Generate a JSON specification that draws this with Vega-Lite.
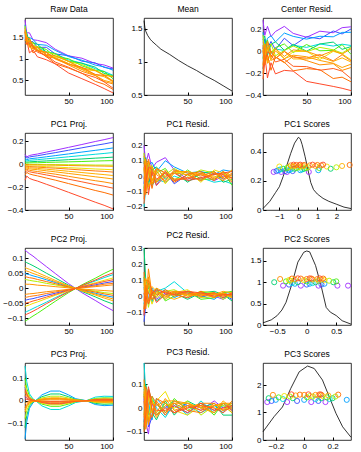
{
"$schema":"https://vega.github.io/schema/vega-lite/v6.json",
"background":"white",
"padding":{"left":2,"top":4,"right":6,"bottom":3},
"config":{
 "view":{"continuousWidth":88,"continuousHeight":77,"stroke":"#000","strokeWidth":0.8},
 "axis":{"domain":false,"grid":false,"tickSize":-3,"tickColor":"#000","labelFontSize":8,"labelFont":"Liberation Sans","labelColor":"#000","labelPadding":5,"labelOverlap":false},
 "title":{"fontSize":8.5,"fontWeight":"normal","font":"Liberation Sans","offset":5,"color":"#000"},
 "range":{"category":["#a030ff","#3c50ff","#00a0ff","#00dcdc","#00d070","#50f010","#b4f000","#f0e000","#ffb000","#ff8c00","#ff6e00","#ff4a2a","#ff9600","#ff7a10","#ffa000","#ff5c20"]},
 "line":{"strokeWidth":1,"clip":true}
},
"datasets":{
"raw":[
{"s":"a","x":1,"y":1.90},{"s":"a","x":3,"y":1.602},{"s":"a","x":6,"y":1.604},{"s":"a","x":10,"y":1.441},{"s":"a","x":15,"y":1.427},{"s":"a","x":25,"y":1.374},{"s":"a","x":35,"y":1.22},{"s":"a","x":50,"y":1.065},{"s":"a","x":65,"y":1.01},{"s":"a","x":80,"y":0.886},{"s":"a","x":90,"y":0.852},{"s":"a","x":100,"y":0.78},
{"s":"b","x":1,"y":1.638},{"s":"b","x":3,"y":1.571},{"s":"b","x":6,"y":1.401},{"s":"b","x":10,"y":1.397},{"s":"b","x":15,"y":1.262},{"s":"b","x":25,"y":1.266},{"s":"b","x":35,"y":1.109},{"s":"b","x":50,"y":1.07},{"s":"b","x":65,"y":0.941},{"s":"b","x":80,"y":0.902},{"s":"b","x":90,"y":0.795},{"s":"b","x":100,"y":0.76},
{"s":"c","x":1,"y":1.79},{"s":"c","x":3,"y":1.478},{"s":"c","x":6,"y":1.495},{"s":"c","x":10,"y":1.449},{"s":"c","x":15,"y":1.333},{"s":"c","x":25,"y":1.313},{"s":"c","x":35,"y":1.193},{"s":"c","x":50,"y":1.048},{"s":"c","x":65,"y":0.964},{"s":"c","x":80,"y":0.849},{"s":"c","x":90,"y":0.809},{"s":"c","x":100,"y":0.73},
{"s":"d","x":1,"y":1.456},{"s":"d","x":3,"y":1.407},{"s":"d","x":6,"y":1.442},{"s":"d","x":10,"y":1.285},{"s":"d","x":15,"y":1.268},{"s":"d","x":25,"y":1.155},{"s":"d","x":35,"y":1.112},{"s":"d","x":50,"y":0.973},{"s":"d","x":65,"y":0.894},{"s":"d","x":80,"y":0.765},{"s":"d","x":90,"y":0.702},{"s":"d","x":100,"y":0.61},
{"s":"e","x":1,"y":1.722},{"s":"e","x":3,"y":1.596},{"s":"e","x":6,"y":1.339},{"s":"e","x":10,"y":1.371},{"s":"e","x":15,"y":1.333},{"s":"e","x":25,"y":1.157},{"s":"e","x":35,"y":1.121},{"s":"e","x":50,"y":0.938},{"s":"e","x":65,"y":0.894},{"s":"e","x":80,"y":0.801},{"s":"e","x":90,"y":0.655},{"s":"e","x":100,"y":0.60},
{"s":"f","x":1,"y":1.551},{"s":"f","x":3,"y":1.498},{"s":"f","x":6,"y":1.48},{"s":"f","x":10,"y":1.291},{"s":"f","x":15,"y":1.281},{"s":"f","x":25,"y":1.214},{"s":"f","x":35,"y":1.046},{"s":"f","x":50,"y":0.999},{"s":"f","x":65,"y":0.832},{"s":"f","x":80,"y":0.726},{"s":"f","x":90,"y":0.698},{"s":"f","x":100,"y":0.53},
{"s":"g","x":1,"y":1.766},{"s":"g","x":3,"y":1.397},{"s":"g","x":6,"y":1.397},{"s":"g","x":10,"y":1.376},{"s":"g","x":15,"y":1.206},{"s":"g","x":25,"y":1.155},{"s":"g","x":35,"y":1.105},{"s":"g","x":50,"y":0.934},{"s":"g","x":65,"y":0.863},{"s":"g","x":80,"y":0.731},{"s":"g","x":90,"y":0.621},{"s":"g","x":100,"y":0.59},
{"s":"h","x":1,"y":1.482},{"s":"h","x":3,"y":1.496},{"s":"h","x":6,"y":1.274},{"s":"h","x":10,"y":1.302},{"s":"h","x":15,"y":1.271},{"s":"h","x":25,"y":1.077},{"s":"h","x":35,"y":1.054},{"s":"h","x":50,"y":0.938},{"s":"h","x":65,"y":0.753},{"s":"h","x":80,"y":0.717},{"s":"h","x":90,"y":0.614},{"s":"h","x":100,"y":0.48},
{"s":"i","x":1,"y":1.634},{"s":"i","x":3,"y":1.333},{"s":"i","x":6,"y":1.448},{"s":"i","x":10,"y":1.225},{"s":"i","x":15,"y":1.182},{"s":"i","x":25,"y":1.145},{"s":"i","x":35,"y":0.988},{"s":"i","x":50,"y":0.867},{"s":"i","x":65,"y":0.776},{"s":"i","x":80,"y":0.625},{"s":"i","x":90,"y":0.578},{"s":"i","x":100,"y":0.46},
{"s":"j","x":1,"y":1.409},{"s":"j","x":3,"y":1.524},{"s":"j","x":6,"y":1.296},{"s":"j","x":10,"y":1.31},{"s":"j","x":15,"y":1.195},{"s":"j","x":25,"y":1.043},{"s":"j","x":35,"y":1.012},{"s":"j","x":50,"y":0.853},{"s":"j","x":65,"y":0.704},{"s":"j","x":80,"y":0.605},{"s":"j","x":90,"y":0.464},{"s":"j","x":100,"y":0.41},
{"s":"k","x":1,"y":1.623},{"s":"k","x":3,"y":1.347},{"s":"k","x":6,"y":1.344},{"s":"k","x":10,"y":1.135},{"s":"k","x":15,"y":1.197},{"s":"k","x":25,"y":1.048},{"s":"k","x":35,"y":0.88},{"s":"k","x":50,"y":0.78},{"s":"k","x":65,"y":0.66},{"s":"k","x":80,"y":0.47},{"s":"k","x":90,"y":0.402},{"s":"k","x":100,"y":0.28},
{"s":"l","x":1,"y":1.46},{"s":"l","x":3,"y":1.425},{"s":"l","x":6,"y":1.135},{"s":"l","x":10,"y":1.203},{"s":"l","x":15,"y":1.042},{"s":"l","x":25,"y":0.974},{"s":"l","x":35,"y":0.877},{"s":"l","x":50,"y":0.664},{"s":"l","x":65,"y":0.531},{"s":"l","x":80,"y":0.398},{"s":"l","x":90,"y":0.301},{"s":"l","x":100,"y":0.20},
{"s":"m","x":1,"y":1.673},{"s":"m","x":3,"y":1.335},{"s":"m","x":6,"y":1.414},{"s":"m","x":10,"y":1.253},{"s":"m","x":15,"y":1.272},{"s":"m","x":25,"y":1.101},{"s":"m","x":35,"y":1.07},{"s":"m","x":50,"y":0.937},{"s":"m","x":65,"y":0.785},{"s":"m","x":80,"y":0.723},{"s":"m","x":90,"y":0.612},{"s":"m","x":100,"y":0.58},
{"s":"n","x":1,"y":1.495},{"s":"n","x":3,"y":1.471},{"s":"n","x":6,"y":1.468},{"s":"n","x":10,"y":1.305},{"s":"n","x":15,"y":1.183},{"s":"n","x":25,"y":1.148},{"s":"n","x":35,"y":1.004},{"s":"n","x":50,"y":0.876},{"s":"n","x":65,"y":0.798},{"s":"n","x":80,"y":0.63},{"s":"n","x":90,"y":0.606},{"s":"n","x":100,"y":0.47},
{"s":"o","x":1,"y":1.703},{"s":"o","x":3,"y":1.515},{"s":"o","x":6,"y":1.268},{"s":"o","x":10,"y":1.234},{"s":"o","x":15,"y":1.251},{"s":"o","x":25,"y":1.081},{"s":"o","x":35,"y":1.022},{"s":"o","x":50,"y":0.888},{"s":"o","x":65,"y":0.744},{"s":"o","x":80,"y":0.609},{"s":"o","x":90,"y":0.49},{"s":"o","x":100,"y":0.44},
{"s":"p","x":1,"y":1.364},{"s":"p","x":3,"y":1.353},{"s":"p","x":6,"y":1.373},{"s":"p","x":10,"y":1.276},{"s":"p","x":15,"y":1.15},{"s":"p","x":25,"y":1.075},{"s":"p","x":35,"y":0.921},{"s":"p","x":50,"y":0.798},{"s":"p","x":65,"y":0.655},{"s":"p","x":80,"y":0.561},{"s":"p","x":90,"y":0.457},{"s":"p","x":100,"y":0.31}
],
"mean":[
{"x":1,"y":1.62},{"x":2,"y":1.52},{"x":3,"y":1.46},{"x":5,"y":1.40},{"x":8,"y":1.34},{"x":10,"y":1.31},{"x":15,"y":1.25},{"x":20,"y":1.19},{"x":30,"y":1.11},{"x":40,"y":1.02},{"x":50,"y":0.94},{"x":60,"y":0.87},{"x":70,"y":0.79},{"x":80,"y":0.72},{"x":90,"y":0.64},{"x":100,"y":0.56}
],
"cres":[
{"s":"a","x":1,"y":0.28},{"s":"a","x":3,"y":0.142},{"s":"a","x":6,"y":0.224},{"s":"a","x":10,"y":0.131},{"s":"a","x":15,"y":0.177},{"s":"a","x":25,"y":0.224},{"s":"a","x":35,"y":0.16},{"s":"a","x":50,"y":0.125},{"s":"a","x":65,"y":0.18},{"s":"a","x":80,"y":0.166},{"s":"a","x":90,"y":0.212},{"s":"a","x":100,"y":0.22},
{"s":"b","x":1,"y":0.018},{"s":"b","x":3,"y":0.111},{"s":"b","x":6,"y":0.021},{"s":"b","x":10,"y":0.087},{"s":"b","x":15,"y":0.012},{"s":"b","x":25,"y":0.116},{"s":"b","x":35,"y":0.049},{"s":"b","x":50,"y":0.13},{"s":"b","x":65,"y":0.111},{"s":"b","x":80,"y":0.182},{"s":"b","x":90,"y":0.155},{"s":"b","x":100,"y":0.20},
{"s":"c","x":1,"y":0.17},{"s":"c","x":3,"y":0.018},{"s":"c","x":6,"y":0.115},{"s":"c","x":10,"y":0.139},{"s":"c","x":15,"y":0.083},{"s":"c","x":25,"y":0.163},{"s":"c","x":35,"y":0.133},{"s":"c","x":50,"y":0.108},{"s":"c","x":65,"y":0.134},{"s":"c","x":80,"y":0.129},{"s":"c","x":90,"y":0.169},{"s":"c","x":100,"y":0.17},
{"s":"d","x":1,"y":-0.164},{"s":"d","x":3,"y":-0.053},{"s":"d","x":6,"y":0.062},{"s":"d","x":10,"y":-0.025},{"s":"d","x":15,"y":0.018},{"s":"d","x":25,"y":0.005},{"s":"d","x":35,"y":0.052},{"s":"d","x":50,"y":0.033},{"s":"d","x":65,"y":0.064},{"s":"d","x":80,"y":0.045},{"s":"d","x":90,"y":0.062},{"s":"d","x":100,"y":0.05},
{"s":"e","x":1,"y":0.102},{"s":"e","x":3,"y":0.136},{"s":"e","x":6,"y":-0.041},{"s":"e","x":10,"y":0.061},{"s":"e","x":15,"y":0.083},{"s":"e","x":25,"y":0.007},{"s":"e","x":35,"y":0.061},{"s":"e","x":50,"y":-0.002},{"s":"e","x":65,"y":0.064},{"s":"e","x":80,"y":0.081},{"s":"e","x":90,"y":0.015},{"s":"e","x":100,"y":0.04},
{"s":"f","x":1,"y":-0.069},{"s":"f","x":3,"y":0.038},{"s":"f","x":6,"y":0.10},{"s":"f","x":10,"y":-0.019},{"s":"f","x":15,"y":0.031},{"s":"f","x":25,"y":0.064},{"s":"f","x":35,"y":-0.014},{"s":"f","x":50,"y":0.059},{"s":"f","x":65,"y":0.002},{"s":"f","x":80,"y":0.006},{"s":"f","x":90,"y":0.058},{"s":"f","x":100,"y":-0.03},
{"s":"g","x":1,"y":0.146},{"s":"g","x":3,"y":-0.063},{"s":"g","x":6,"y":0.017},{"s":"g","x":10,"y":0.066},{"s":"g","x":15,"y":-0.044},{"s":"g","x":25,"y":0.005},{"s":"g","x":35,"y":0.045},{"s":"g","x":50,"y":-0.006},{"s":"g","x":65,"y":0.033},{"s":"g","x":80,"y":0.011},{"s":"g","x":90,"y":-0.019},{"s":"g","x":100,"y":0.03},
{"s":"h","x":1,"y":-0.138},{"s":"h","x":3,"y":0.036},{"s":"h","x":6,"y":-0.106},{"s":"h","x":10,"y":-0.008},{"s":"h","x":15,"y":0.021},{"s":"h","x":25,"y":-0.073},{"s":"h","x":35,"y":-0.006},{"s":"h","x":50,"y":-0.002},{"s":"h","x":65,"y":-0.077},{"s":"h","x":80,"y":-0.003},{"s":"h","x":90,"y":-0.026},{"s":"h","x":100,"y":-0.08},
{"s":"i","x":1,"y":0.014},{"s":"i","x":3,"y":-0.127},{"s":"i","x":6,"y":0.068},{"s":"i","x":10,"y":-0.085},{"s":"i","x":15,"y":-0.068},{"s":"i","x":25,"y":-0.005},{"s":"i","x":35,"y":-0.072},{"s":"i","x":50,"y":-0.073},{"s":"i","x":65,"y":-0.054},{"s":"i","x":80,"y":-0.095},{"s":"i","x":90,"y":-0.062},{"s":"i","x":100,"y":-0.10},
{"s":"j","x":1,"y":-0.211},{"s":"j","x":3,"y":0.064},{"s":"j","x":6,"y":-0.084},{"s":"j","x":10,"y":0.0},{"s":"j","x":15,"y":-0.055},{"s":"j","x":25,"y":-0.107},{"s":"j","x":35,"y":-0.048},{"s":"j","x":50,"y":-0.087},{"s":"j","x":65,"y":-0.126},{"s":"j","x":80,"y":-0.115},{"s":"j","x":90,"y":-0.176},{"s":"j","x":100,"y":-0.15},
{"s":"k","x":1,"y":0.003},{"s":"k","x":3,"y":-0.113},{"s":"k","x":6,"y":-0.036},{"s":"k","x":10,"y":-0.175},{"s":"k","x":15,"y":-0.053},{"s":"k","x":25,"y":-0.102},{"s":"k","x":35,"y":-0.18},{"s":"k","x":50,"y":-0.16},{"s":"k","x":65,"y":-0.17},{"s":"k","x":80,"y":-0.25},{"s":"k","x":90,"y":-0.238},{"s":"k","x":100,"y":-0.28},
{"s":"l","x":1,"y":-0.16},{"s":"l","x":3,"y":-0.035},{"s":"l","x":6,"y":-0.245},{"s":"l","x":10,"y":-0.107},{"s":"l","x":15,"y":-0.208},{"s":"l","x":25,"y":-0.176},{"s":"l","x":35,"y":-0.183},{"s":"l","x":50,"y":-0.276},{"s":"l","x":65,"y":-0.299},{"s":"l","x":80,"y":-0.322},{"s":"l","x":90,"y":-0.339},{"s":"l","x":100,"y":-0.36},
{"s":"m","x":1,"y":0.053},{"s":"m","x":3,"y":-0.125},{"s":"m","x":6,"y":0.034},{"s":"m","x":10,"y":-0.057},{"s":"m","x":15,"y":0.022},{"s":"m","x":25,"y":-0.049},{"s":"m","x":35,"y":0.01},{"s":"m","x":50,"y":-0.003},{"s":"m","x":65,"y":-0.045},{"s":"m","x":80,"y":0.003},{"s":"m","x":90,"y":-0.028},{"s":"m","x":100,"y":0.02},
{"s":"n","x":1,"y":-0.125},{"s":"n","x":3,"y":0.011},{"s":"n","x":6,"y":0.088},{"s":"n","x":10,"y":-0.005},{"s":"n","x":15,"y":-0.067},{"s":"n","x":25,"y":-0.002},{"s":"n","x":35,"y":-0.056},{"s":"n","x":50,"y":-0.064},{"s":"n","x":65,"y":-0.032},{"s":"n","x":80,"y":-0.09},{"s":"n","x":90,"y":-0.034},{"s":"n","x":100,"y":-0.09},
{"s":"o","x":1,"y":0.083},{"s":"o","x":3,"y":0.055},{"s":"o","x":6,"y":-0.112},{"s":"o","x":10,"y":-0.076},{"s":"o","x":15,"y":0.001},{"s":"o","x":25,"y":-0.069},{"s":"o","x":35,"y":-0.038},{"s":"o","x":50,"y":-0.052},{"s":"o","x":65,"y":-0.086},{"s":"o","x":80,"y":-0.111},{"s":"o","x":90,"y":-0.15},{"s":"o","x":100,"y":-0.12},
{"s":"p","x":1,"y":-0.256},{"s":"p","x":3,"y":-0.107},{"s":"p","x":6,"y":-0.007},{"s":"p","x":10,"y":-0.034},{"s":"p","x":15,"y":-0.1},{"s":"p","x":25,"y":-0.075},{"s":"p","x":35,"y":-0.139},{"s":"p","x":50,"y":-0.142},{"s":"p","x":65,"y":-0.175},{"s":"p","x":80,"y":-0.159},{"s":"p","x":90,"y":-0.183},{"s":"p","x":100,"y":-0.25}
],
"p1":[
{"s":"a","x":1,"y":0.083},{"s":"a","x":3,"y":0.062},{"s":"a","x":6,"y":0.074},{"s":"a","x":10,"y":0.081},{"s":"a","x":15,"y":0.087},{"s":"a","x":25,"y":0.104},{"s":"a","x":35,"y":0.12},{"s":"a","x":50,"y":0.145},{"s":"a","x":65,"y":0.17},{"s":"a","x":80,"y":0.196},{"s":"a","x":90,"y":0.212},{"s":"a","x":100,"y":0.23},
{"s":"b","x":1,"y":0.068},{"s":"b","x":3,"y":0.051},{"s":"b","x":6,"y":0.061},{"s":"b","x":10,"y":0.067},{"s":"b","x":15,"y":0.072},{"s":"b","x":25,"y":0.086},{"s":"b","x":35,"y":0.099},{"s":"b","x":50,"y":0.12},{"s":"b","x":65,"y":0.141},{"s":"b","x":80,"y":0.162},{"s":"b","x":90,"y":0.175},{"s":"b","x":100,"y":0.19},
{"s":"c","x":1,"y":0.05},{"s":"c","x":3,"y":0.038},{"s":"c","x":6,"y":0.045},{"s":"c","x":10,"y":0.049},{"s":"c","x":15,"y":0.053},{"s":"c","x":25,"y":0.063},{"s":"c","x":35,"y":0.073},{"s":"c","x":50,"y":0.088},{"s":"c","x":65,"y":0.104},{"s":"c","x":80,"y":0.119},{"s":"c","x":90,"y":0.129},{"s":"c","x":100,"y":0.14},
{"s":"d","x":1,"y":0.036},{"s":"d","x":3,"y":0.027},{"s":"d","x":6,"y":0.032},{"s":"d","x":10,"y":0.035},{"s":"d","x":15,"y":0.038},{"s":"d","x":25,"y":0.045},{"s":"d","x":35,"y":0.052},{"s":"d","x":50,"y":0.063},{"s":"d","x":65,"y":0.074},{"s":"d","x":80,"y":0.085},{"s":"d","x":90,"y":0.092},{"s":"d","x":100,"y":0.10},
{"s":"e","x":1,"y":0.022},{"s":"e","x":3,"y":0.016},{"s":"e","x":6,"y":0.019},{"s":"e","x":10,"y":0.021},{"s":"e","x":15,"y":0.023},{"s":"e","x":25,"y":0.027},{"s":"e","x":35,"y":0.031},{"s":"e","x":50,"y":0.038},{"s":"e","x":65,"y":0.044},{"s":"e","x":80,"y":0.051},{"s":"e","x":90,"y":0.055},{"s":"e","x":100,"y":0.06},
{"s":"f","x":1,"y":0.011},{"s":"f","x":3,"y":0.008},{"s":"f","x":6,"y":0.01},{"s":"f","x":10,"y":0.011},{"s":"f","x":15,"y":0.011},{"s":"f","x":25,"y":0.014},{"s":"f","x":35,"y":0.016},{"s":"f","x":50,"y":0.019},{"s":"f","x":65,"y":0.022},{"s":"f","x":80,"y":0.026},{"s":"f","x":90,"y":0.028},{"s":"f","x":100,"y":0.03},
{"s":"g","x":1,"y":-0.004},{"s":"g","x":3,"y":-0.003},{"s":"g","x":6,"y":-0.003},{"s":"g","x":10,"y":-0.004},{"s":"g","x":15,"y":-0.004},{"s":"g","x":25,"y":-0.005},{"s":"g","x":35,"y":-0.005},{"s":"g","x":50,"y":-0.006},{"s":"g","x":65,"y":-0.007},{"s":"g","x":80,"y":-0.009},{"s":"g","x":90,"y":-0.009},{"s":"g","x":100,"y":-0.01},
{"s":"h","x":1,"y":-0.018},{"s":"h","x":3,"y":-0.014},{"s":"h","x":6,"y":-0.016},{"s":"h","x":10,"y":-0.018},{"s":"h","x":15,"y":-0.019},{"s":"h","x":25,"y":-0.023},{"s":"h","x":35,"y":-0.026},{"s":"h","x":50,"y":-0.032},{"s":"h","x":65,"y":-0.037},{"s":"h","x":80,"y":-0.043},{"s":"h","x":90,"y":-0.046},{"s":"h","x":100,"y":-0.05},
{"s":"i","x":1,"y":-0.036},{"s":"i","x":3,"y":-0.027},{"s":"i","x":6,"y":-0.032},{"s":"i","x":10,"y":-0.035},{"s":"i","x":15,"y":-0.038},{"s":"i","x":25,"y":-0.045},{"s":"i","x":35,"y":-0.052},{"s":"i","x":50,"y":-0.063},{"s":"i","x":65,"y":-0.074},{"s":"i","x":80,"y":-0.085},{"s":"i","x":90,"y":-0.092},{"s":"i","x":100,"y":-0.10},
{"s":"j","x":1,"y":-0.061},{"s":"j","x":3,"y":-0.046},{"s":"j","x":6,"y":-0.054},{"s":"j","x":10,"y":-0.06},{"s":"j","x":15,"y":-0.065},{"s":"j","x":25,"y":-0.077},{"s":"j","x":35,"y":-0.088},{"s":"j","x":50,"y":-0.107},{"s":"j","x":65,"y":-0.126},{"s":"j","x":80,"y":-0.145},{"s":"j","x":90,"y":-0.156},{"s":"j","x":100,"y":-0.17},
{"s":"k","x":1,"y":-0.097},{"s":"k","x":3,"y":-0.073},{"s":"k","x":6,"y":-0.086},{"s":"k","x":10,"y":-0.095},{"s":"k","x":15,"y":-0.103},{"s":"k","x":25,"y":-0.122},{"s":"k","x":35,"y":-0.14},{"s":"k","x":50,"y":-0.17},{"s":"k","x":65,"y":-0.2},{"s":"k","x":80,"y":-0.23},{"s":"k","x":90,"y":-0.248},{"s":"k","x":100,"y":-0.27},
{"s":"l","x":1,"y":-0.14},{"s":"l","x":3,"y":-0.105},{"s":"l","x":6,"y":-0.125},{"s":"l","x":10,"y":-0.137},{"s":"l","x":15,"y":-0.148},{"s":"l","x":25,"y":-0.176},{"s":"l","x":35,"y":-0.203},{"s":"l","x":50,"y":-0.246},{"s":"l","x":65,"y":-0.289},{"s":"l","x":80,"y":-0.332},{"s":"l","x":90,"y":-0.359},{"s":"l","x":100,"y":-0.39},
{"s":"m","x":1,"y":-0.007},{"s":"m","x":3,"y":-0.005},{"s":"m","x":6,"y":-0.006},{"s":"m","x":10,"y":-0.007},{"s":"m","x":15,"y":-0.008},{"s":"m","x":25,"y":-0.009},{"s":"m","x":35,"y":-0.01},{"s":"m","x":50,"y":-0.013},{"s":"m","x":65,"y":-0.015},{"s":"m","x":80,"y":-0.017},{"s":"m","x":90,"y":-0.018},{"s":"m","x":100,"y":-0.02},
{"s":"n","x":1,"y":-0.025},{"s":"n","x":3,"y":-0.019},{"s":"n","x":6,"y":-0.022},{"s":"n","x":10,"y":-0.025},{"s":"n","x":15,"y":-0.027},{"s":"n","x":25,"y":-0.032},{"s":"n","x":35,"y":-0.036},{"s":"n","x":50,"y":-0.044},{"s":"n","x":65,"y":-0.052},{"s":"n","x":80,"y":-0.06},{"s":"n","x":90,"y":-0.064},{"s":"n","x":100,"y":-0.07},
{"s":"o","x":1,"y":-0.047},{"s":"o","x":3,"y":-0.035},{"s":"o","x":6,"y":-0.042},{"s":"o","x":10,"y":-0.046},{"s":"o","x":15,"y":-0.049},{"s":"o","x":25,"y":-0.059},{"s":"o","x":35,"y":-0.068},{"s":"o","x":50,"y":-0.082},{"s":"o","x":65,"y":-0.096},{"s":"o","x":80,"y":-0.111},{"s":"o","x":90,"y":-0.12},{"s":"o","x":100,"y":-0.13},
{"s":"p","x":1,"y":-0.076},{"s":"p","x":3,"y":-0.057},{"s":"p","x":6,"y":-0.067},{"s":"p","x":10,"y":-0.074},{"s":"p","x":15,"y":-0.08},{"s":"p","x":25,"y":-0.095},{"s":"p","x":35,"y":-0.109},{"s":"p","x":50,"y":-0.132},{"s":"p","x":65,"y":-0.155},{"s":"p","x":80,"y":-0.179},{"s":"p","x":90,"y":-0.193},{"s":"p","x":100,"y":-0.21}
],
"r1":[
{"s":"a","x":1,"y":0.20},{"s":"a","x":3,"y":0.08},{"s":"a","x":6,"y":0.15},{"s":"a","x":10,"y":0.05},{"s":"a","x":15,"y":0.09},{"s":"a","x":25,"y":0.12},{"s":"a","x":35,"y":0.04},{"s":"a","x":50,"y":-0.02},{"s":"a","x":65,"y":0.01},{"s":"a","x":80,"y":-0.03},{"s":"a","x":90,"y":0.0},{"s":"a","x":100,"y":-0.01},
{"s":"b","x":1,"y":-0.05},{"s":"b","x":3,"y":0.06},{"s":"b","x":6,"y":-0.04},{"s":"b","x":10,"y":0.02},{"s":"b","x":15,"y":-0.06},{"s":"b","x":25,"y":0.03},{"s":"b","x":35,"y":-0.05},{"s":"b","x":50,"y":0.01},{"s":"b","x":65,"y":-0.03},{"s":"b","x":80,"y":0.02},{"s":"b","x":90,"y":-0.02},{"s":"b","x":100,"y":0.01},
{"s":"c","x":1,"y":0.12},{"s":"c","x":3,"y":-0.02},{"s":"c","x":6,"y":0.07},{"s":"c","x":10,"y":0.09},{"s":"c","x":15,"y":0.03},{"s":"c","x":25,"y":0.10},{"s":"c","x":35,"y":0.06},{"s":"c","x":50,"y":0.02},{"s":"c","x":65,"y":0.03},{"s":"c","x":80,"y":0.01},{"s":"c","x":90,"y":0.04},{"s":"c","x":100,"y":0.03},
{"s":"d","x":1,"y":-0.20},{"s":"d","x":3,"y":-0.08},{"s":"d","x":6,"y":0.03},{"s":"d","x":10,"y":-0.06},{"s":"d","x":15,"y":-0.02},{"s":"d","x":25,"y":-0.04},{"s":"d","x":35,"y":0.0},{"s":"d","x":50,"y":-0.03},{"s":"d","x":65,"y":-0.01},{"s":"d","x":80,"y":-0.04},{"s":"d","x":90,"y":-0.03},{"s":"d","x":100,"y":-0.05},
{"s":"e","x":1,"y":0.08},{"s":"e","x":3,"y":0.12},{"s":"e","x":6,"y":-0.06},{"s":"e","x":10,"y":0.04},{"s":"e","x":15,"y":0.06},{"s":"e","x":25,"y":-0.02},{"s":"e","x":35,"y":0.03},{"s":"e","x":50,"y":-0.04},{"s":"e","x":65,"y":0.02},{"s":"e","x":80,"y":0.03},{"s":"e","x":90,"y":-0.04},{"s":"e","x":100,"y":-0.02},
{"s":"f","x":1,"y":-0.08},{"s":"f","x":3,"y":0.03},{"s":"f","x":6,"y":0.09},{"s":"f","x":10,"y":-0.03},{"s":"f","x":15,"y":0.02},{"s":"f","x":25,"y":0.05},{"s":"f","x":35,"y":-0.03},{"s":"f","x":50,"y":0.04},{"s":"f","x":65,"y":-0.02},{"s":"f","x":80,"y":-0.02},{"s":"f","x":90,"y":0.03},{"s":"f","x":100,"y":-0.06},
{"s":"g","x":1,"y":0.15},{"s":"g","x":3,"y":-0.06},{"s":"g","x":6,"y":0.02},{"s":"g","x":10,"y":0.07},{"s":"g","x":15,"y":-0.04},{"s":"g","x":25,"y":0.01},{"s":"g","x":35,"y":0.05},{"s":"g","x":50,"y":0.0},{"s":"g","x":65,"y":0.04},{"s":"g","x":80,"y":0.02},{"s":"g","x":90,"y":-0.01},{"s":"g","x":100,"y":0.04},
{"s":"h","x":1,"y":-0.12},{"s":"h","x":3,"y":0.05},{"s":"h","x":6,"y":-0.09},{"s":"h","x":10,"y":0.01},{"s":"h","x":15,"y":0.04},{"s":"h","x":25,"y":-0.05},{"s":"h","x":35,"y":0.02},{"s":"h","x":50,"y":0.03},{"s":"h","x":65,"y":-0.04},{"s":"h","x":80,"y":0.04},{"s":"h","x":90,"y":0.02},{"s":"h","x":100,"y":-0.03},
{"s":"i","x":1,"y":0.05},{"s":"i","x":3,"y":-0.10},{"s":"i","x":6,"y":0.10},{"s":"i","x":10,"y":-0.05},{"s":"i","x":15,"y":-0.03},{"s":"i","x":25,"y":0.04},{"s":"i","x":35,"y":-0.02},{"s":"i","x":50,"y":-0.01},{"s":"i","x":65,"y":0.02},{"s":"i","x":80,"y":-0.01},{"s":"i","x":90,"y":0.03},{"s":"i","x":100,"y":0.0},
{"s":"j","x":1,"y":-0.15},{"s":"j","x":3,"y":0.11},{"s":"j","x":6,"y":-0.03},{"s":"j","x":10,"y":0.06},{"s":"j","x":15,"y":0.01},{"s":"j","x":25,"y":-0.03},{"s":"j","x":35,"y":0.04},{"s":"j","x":50,"y":0.02},{"s":"j","x":65,"y":0.0},{"s":"j","x":80,"y":0.03},{"s":"j","x":90,"y":-0.02},{"s":"j","x":100,"y":0.02},
{"s":"k","x":1,"y":0.10},{"s":"k","x":3,"y":-0.04},{"s":"k","x":6,"y":0.05},{"s":"k","x":10,"y":-0.08},{"s":"k","x":15,"y":0.05},{"s":"k","x":25,"y":0.02},{"s":"k","x":35,"y":-0.04},{"s":"k","x":50,"y":0.01},{"s":"k","x":65,"y":0.03},{"s":"k","x":80,"y":-0.02},{"s":"k","x":90,"y":0.01},{"s":"k","x":100,"y":-0.01},
{"s":"l","x":1,"y":-0.02},{"s":"l","x":3,"y":0.07},{"s":"l","x":6,"y":-0.12},{"s":"l","x":10,"y":0.03},{"s":"l","x":15,"y":-0.06},{"s":"l","x":25,"y":0.0},{"s":"l","x":35,"y":0.02},{"s":"l","x":50,"y":-0.03},{"s":"l","x":65,"y":-0.01},{"s":"l","x":80,"y":0.01},{"s":"l","x":90,"y":0.02},{"s":"l","x":100,"y":0.03},
{"s":"m","x":1,"y":0.06},{"s":"m","x":3,"y":-0.12},{"s":"m","x":6,"y":0.04},{"s":"m","x":10,"y":-0.05},{"s":"m","x":15,"y":0.03},{"s":"m","x":25,"y":-0.04},{"s":"m","x":35,"y":0.02},{"s":"m","x":50,"y":0.01},{"s":"m","x":65,"y":-0.03},{"s":"m","x":80,"y":0.02},{"s":"m","x":90,"y":-0.01},{"s":"m","x":100,"y":0.04},
{"s":"n","x":1,"y":-0.10},{"s":"n","x":3,"y":0.03},{"s":"n","x":6,"y":0.11},{"s":"n","x":10,"y":0.02},{"s":"n","x":15,"y":-0.04},{"s":"n","x":25,"y":0.03},{"s":"n","x":35,"y":-0.02},{"s":"n","x":50,"y":-0.02},{"s":"n","x":65,"y":0.02},{"s":"n","x":80,"y":-0.03},{"s":"n","x":90,"y":0.03},{"s":"n","x":100,"y":-0.02},
{"s":"o","x":1,"y":0.13},{"s":"o","x":3,"y":0.09},{"s":"o","x":6,"y":-0.07},{"s":"o","x":10,"y":-0.03},{"s":"o","x":15,"y":0.05},{"s":"o","x":25,"y":-0.01},{"s":"o","x":35,"y":0.03},{"s":"o","x":50,"y":0.03},{"s":"o","x":65,"y":0.01},{"s":"o","x":80,"y":0.0},{"s":"o","x":90,"y":-0.03},{"s":"o","x":100,"y":0.01},
{"s":"p","x":1,"y":-0.18},{"s":"p","x":3,"y":-0.05},{"s":"p","x":6,"y":0.06},{"s":"p","x":10,"y":0.04},{"s":"p","x":15,"y":-0.02},{"s":"p","x":25,"y":0.02},{"s":"p","x":35,"y":-0.03},{"s":"p","x":50,"y":-0.01},{"s":"p","x":65,"y":-0.02},{"s":"p","x":80,"y":0.02},{"s":"p","x":90,"y":0.01},{"s":"p","x":100,"y":-0.04}
],
"p2":[
{"s":"a","x":1,"y":0.128},{"s":"a","x":3,"y":0.123},{"s":"a","x":6,"y":0.116},{"s":"a","x":10,"y":0.108},{"s":"a","x":15,"y":0.096},{"s":"a","x":25,"y":0.073},{"s":"a","x":35,"y":0.05},{"s":"a","x":50,"y":0.016},{"s":"a","x":65,"y":-0.014},{"s":"a","x":80,"y":-0.04},{"s":"a","x":90,"y":-0.058},{"s":"a","x":100,"y":-0.074},
{"s":"b","x":1,"y":-0.04},{"s":"b","x":3,"y":-0.038},{"s":"b","x":6,"y":-0.036},{"s":"b","x":10,"y":-0.034},{"s":"b","x":15,"y":-0.03},{"s":"b","x":25,"y":-0.023},{"s":"b","x":35,"y":-0.016},{"s":"b","x":50,"y":-0.005},{"s":"b","x":65,"y":0.004},{"s":"b","x":80,"y":0.012},{"s":"b","x":90,"y":0.018},{"s":"b","x":100,"y":0.023},
{"s":"c","x":1,"y":0.05},{"s":"c","x":3,"y":0.048},{"s":"c","x":6,"y":0.046},{"s":"c","x":10,"y":0.042},{"s":"c","x":15,"y":0.038},{"s":"c","x":25,"y":0.029},{"s":"c","x":35,"y":0.02},{"s":"c","x":50,"y":0.006},{"s":"c","x":65,"y":-0.006},{"s":"c","x":80,"y":-0.016},{"s":"c","x":90,"y":-0.023},{"s":"c","x":100,"y":-0.029},
{"s":"d","x":1,"y":-0.08},{"s":"d","x":3,"y":-0.077},{"s":"d","x":6,"y":-0.073},{"s":"d","x":10,"y":-0.067},{"s":"d","x":15,"y":-0.06},{"s":"d","x":25,"y":-0.046},{"s":"d","x":35,"y":-0.031},{"s":"d","x":50,"y":-0.01},{"s":"d","x":65,"y":0.009},{"s":"d","x":80,"y":0.025},{"s":"d","x":90,"y":0.036},{"s":"d","x":100,"y":0.046},
{"s":"e","x":1,"y":0.09},{"s":"e","x":3,"y":0.086},{"s":"e","x":6,"y":0.082},{"s":"e","x":10,"y":0.076},{"s":"e","x":15,"y":0.068},{"s":"e","x":25,"y":0.051},{"s":"e","x":35,"y":0.035},{"s":"e","x":50,"y":0.011},{"s":"e","x":65,"y":-0.01},{"s":"e","x":80,"y":-0.028},{"s":"e","x":90,"y":-0.041},{"s":"e","x":100,"y":-0.052},
{"s":"f","x":1,"y":-0.11},{"s":"f","x":3,"y":-0.106},{"s":"f","x":6,"y":-0.1},{"s":"f","x":10,"y":-0.092},{"s":"f","x":15,"y":-0.083},{"s":"f","x":25,"y":-0.063},{"s":"f","x":35,"y":-0.043},{"s":"f","x":50,"y":-0.014},{"s":"f","x":65,"y":0.012},{"s":"f","x":80,"y":0.034},{"s":"f","x":90,"y":0.05},{"s":"f","x":100,"y":0.064},
{"s":"g","x":1,"y":0.03},{"s":"g","x":3,"y":0.029},{"s":"g","x":6,"y":0.027},{"s":"g","x":10,"y":0.025},{"s":"g","x":15,"y":0.023},{"s":"g","x":25,"y":0.017},{"s":"g","x":35,"y":0.012},{"s":"g","x":50,"y":0.004},{"s":"g","x":65,"y":-0.003},{"s":"g","x":80,"y":-0.009},{"s":"g","x":90,"y":-0.014},{"s":"g","x":100,"y":-0.017},
{"s":"h","x":1,"y":-0.06},{"s":"h","x":3,"y":-0.058},{"s":"h","x":6,"y":-0.055},{"s":"h","x":10,"y":-0.05},{"s":"h","x":15,"y":-0.045},{"s":"h","x":25,"y":-0.034},{"s":"h","x":35,"y":-0.023},{"s":"h","x":50,"y":-0.008},{"s":"h","x":65,"y":0.007},{"s":"h","x":80,"y":0.019},{"s":"h","x":90,"y":0.027},{"s":"h","x":100,"y":0.035},
{"s":"i","x":1,"y":0.07},{"s":"i","x":3,"y":0.067},{"s":"i","x":6,"y":0.064},{"s":"i","x":10,"y":0.059},{"s":"i","x":15,"y":0.053},{"s":"i","x":25,"y":0.04},{"s":"i","x":35,"y":0.027},{"s":"i","x":50,"y":0.009},{"s":"i","x":65,"y":-0.008},{"s":"i","x":80,"y":-0.022},{"s":"i","x":90,"y":-0.032},{"s":"i","x":100,"y":-0.041},
{"s":"j","x":1,"y":-0.02},{"s":"j","x":3,"y":-0.019},{"s":"j","x":6,"y":-0.018},{"s":"j","x":10,"y":-0.017},{"s":"j","x":15,"y":-0.015},{"s":"j","x":25,"y":-0.011},{"s":"j","x":35,"y":-0.008},{"s":"j","x":50,"y":-0.003},{"s":"j","x":65,"y":0.002},{"s":"j","x":80,"y":0.006},{"s":"j","x":90,"y":0.009},{"s":"j","x":100,"y":0.012},
{"s":"k","x":1,"y":0.04},{"s":"k","x":3,"y":0.038},{"s":"k","x":6,"y":0.036},{"s":"k","x":10,"y":0.034},{"s":"k","x":15,"y":0.03},{"s":"k","x":25,"y":0.023},{"s":"k","x":35,"y":0.016},{"s":"k","x":50,"y":0.005},{"s":"k","x":65,"y":-0.004},{"s":"k","x":80,"y":-0.012},{"s":"k","x":90,"y":-0.018},{"s":"k","x":100,"y":-0.023},
{"s":"l","x":1,"y":-0.09},{"s":"l","x":3,"y":-0.086},{"s":"l","x":6,"y":-0.082},{"s":"l","x":10,"y":-0.076},{"s":"l","x":15,"y":-0.068},{"s":"l","x":25,"y":-0.051},{"s":"l","x":35,"y":-0.035},{"s":"l","x":50,"y":-0.011},{"s":"l","x":65,"y":0.01},{"s":"l","x":80,"y":0.028},{"s":"l","x":90,"y":0.041},{"s":"l","x":100,"y":0.052},
{"s":"m","x":1,"y":0.015},{"s":"m","x":3,"y":0.014},{"s":"m","x":6,"y":0.014},{"s":"m","x":10,"y":0.013},{"s":"m","x":15,"y":0.011},{"s":"m","x":25,"y":0.009},{"s":"m","x":35,"y":0.006},{"s":"m","x":50,"y":0.002},{"s":"m","x":65,"y":-0.002},{"s":"m","x":80,"y":-0.005},{"s":"m","x":90,"y":-0.007},{"s":"m","x":100,"y":-0.009},
{"s":"n","x":1,"y":-0.03},{"s":"n","x":3,"y":-0.029},{"s":"n","x":6,"y":-0.027},{"s":"n","x":10,"y":-0.025},{"s":"n","x":15,"y":-0.023},{"s":"n","x":25,"y":-0.017},{"s":"n","x":35,"y":-0.012},{"s":"n","x":50,"y":-0.004},{"s":"n","x":65,"y":0.003},{"s":"n","x":80,"y":0.009},{"s":"n","x":90,"y":0.014},{"s":"n","x":100,"y":0.017},
{"s":"o","x":1,"y":0.06},{"s":"o","x":3,"y":0.058},{"s":"o","x":6,"y":0.055},{"s":"o","x":10,"y":0.05},{"s":"o","x":15,"y":0.045},{"s":"o","x":25,"y":0.034},{"s":"o","x":35,"y":0.023},{"s":"o","x":50,"y":0.008},{"s":"o","x":65,"y":-0.007},{"s":"o","x":80,"y":-0.019},{"s":"o","x":90,"y":-0.027},{"s":"o","x":100,"y":-0.035},
{"s":"p","x":1,"y":-0.05},{"s":"p","x":3,"y":-0.048},{"s":"p","x":6,"y":-0.046},{"s":"p","x":10,"y":-0.042},{"s":"p","x":15,"y":-0.038},{"s":"p","x":25,"y":-0.029},{"s":"p","x":35,"y":-0.02},{"s":"p","x":50,"y":-0.006},{"s":"p","x":65,"y":0.006},{"s":"p","x":80,"y":0.016},{"s":"p","x":90,"y":0.023},{"s":"p","x":100,"y":0.029}
],
"r2":[
{"s":"a","x":1,"y":-0.12},{"s":"a","x":3,"y":0.04},{"s":"a","x":6,"y":-0.05},{"s":"a","x":10,"y":0.03},{"s":"a","x":15,"y":-0.02},{"s":"a","x":25,"y":0.02},{"s":"a","x":35,"y":0.01},{"s":"a","x":50,"y":-0.01},{"s":"a","x":65,"y":0.02},{"s":"a","x":80,"y":0.0},{"s":"a","x":90,"y":-0.02},{"s":"a","x":100,"y":0.01},
{"s":"b","x":1,"y":-0.16},{"s":"b","x":3,"y":-0.06},{"s":"b","x":6,"y":0.03},{"s":"b","x":10,"y":-0.03},{"s":"b","x":15,"y":0.04},{"s":"b","x":25,"y":-0.02},{"s":"b","x":35,"y":0.03},{"s":"b","x":50,"y":0.02},{"s":"b","x":65,"y":-0.01},{"s":"b","x":80,"y":0.02},{"s":"b","x":90,"y":0.01},{"s":"b","x":100,"y":-0.02},
{"s":"c","x":1,"y":0.05},{"s":"c","x":3,"y":0.08},{"s":"c","x":6,"y":-0.02},{"s":"c","x":10,"y":0.05},{"s":"c","x":15,"y":0.01},{"s":"c","x":25,"y":0.04},{"s":"c","x":35,"y":-0.01},{"s":"c","x":50,"y":0.03},{"s":"c","x":65,"y":0.0},{"s":"c","x":80,"y":-0.02},{"s":"c","x":90,"y":0.02},{"s":"c","x":100,"y":0.02},
{"s":"d","x":1,"y":-0.05},{"s":"d","x":3,"y":0.02},{"s":"d","x":6,"y":0.06},{"s":"d","x":10,"y":-0.04},{"s":"d","x":15,"y":0.03},{"s":"d","x":25,"y":0.05},{"s":"d","x":35,"y":0.09},{"s":"d","x":50,"y":0.02},{"s":"d","x":65,"y":0.01},{"s":"d","x":80,"y":0.01},{"s":"d","x":90,"y":-0.01},{"s":"d","x":100,"y":0.0},
{"s":"e","x":1,"y":0.30},{"s":"e","x":3,"y":0.10},{"s":"e","x":6,"y":0.05},{"s":"e","x":10,"y":0.02},{"s":"e","x":15,"y":-0.03},{"s":"e","x":25,"y":0.01},{"s":"e","x":35,"y":0.02},{"s":"e","x":50,"y":-0.02},{"s":"e","x":65,"y":0.02},{"s":"e","x":80,"y":0.03},{"s":"e","x":90,"y":0.01},{"s":"e","x":100,"y":-0.03},
{"s":"f","x":1,"y":0.12},{"s":"f","x":3,"y":-0.05},{"s":"f","x":6,"y":0.08},{"s":"f","x":10,"y":0.0},{"s":"f","x":15,"y":0.05},{"s":"f","x":25,"y":-0.03},{"s":"f","x":35,"y":0.0},{"s":"f","x":50,"y":0.03},{"s":"f","x":65,"y":-0.02},{"s":"f","x":80,"y":-0.01},{"s":"f","x":90,"y":0.02},{"s":"f","x":100,"y":0.03},
{"s":"g","x":1,"y":-0.08},{"s":"g","x":3,"y":0.06},{"s":"g","x":6,"y":-0.07},{"s":"g","x":10,"y":0.04},{"s":"g","x":15,"y":-0.01},{"s":"g","x":25,"y":0.03},{"s":"g","x":35,"y":0.04},{"s":"g","x":50,"y":0.0},{"s":"g","x":65,"y":0.03},{"s":"g","x":80,"y":0.02},{"s":"g","x":90,"y":-0.02},{"s":"g","x":100,"y":0.01},
{"s":"h","x":1,"y":0.08},{"s":"h","x":3,"y":-0.03},{"s":"h","x":6,"y":0.04},{"s":"h","x":10,"y":-0.05},{"s":"h","x":15,"y":0.02},{"s":"h","x":25,"y":-0.02},{"s":"h","x":35,"y":0.02},{"s":"h","x":50,"y":0.04},{"s":"h","x":65,"y":-0.01},{"s":"h","x":80,"y":0.0},{"s":"h","x":90,"y":0.01},{"s":"h","x":100,"y":-0.01},
{"s":"i","x":1,"y":-0.03},{"s":"i","x":3,"y":0.09},{"s":"i","x":6,"y":-0.04},{"s":"i","x":10,"y":0.06},{"s":"i","x":15,"y":0.03},{"s":"i","x":25,"y":0.0},{"s":"i","x":35,"y":-0.02},{"s":"i","x":50,"y":0.01},{"s":"i","x":65,"y":0.02},{"s":"i","x":80,"y":0.01},{"s":"i","x":90,"y":0.03},{"s":"i","x":100,"y":0.02},
{"s":"j","x":1,"y":0.15},{"s":"j","x":3,"y":-0.08},{"s":"j","x":6,"y":0.17},{"s":"j","x":10,"y":0.01},{"s":"j","x":15,"y":0.05},{"s":"j","x":25,"y":0.02},{"s":"j","x":35,"y":0.03},{"s":"j","x":50,"y":0.02},{"s":"j","x":65,"y":0.0},{"s":"j","x":80,"y":0.02},{"s":"j","x":90,"y":0.0},{"s":"j","x":100,"y":0.01},
{"s":"k","x":1,"y":-0.10},{"s":"k","x":3,"y":0.05},{"s":"k","x":6,"y":0.02},{"s":"k","x":10,"y":-0.02},{"s":"k","x":15,"y":0.0},{"s":"k","x":25,"y":0.04},{"s":"k","x":35,"y":0.01},{"s":"k","x":50,"y":-0.01},{"s":"k","x":65,"y":0.03},{"s":"k","x":80,"y":-0.01},{"s":"k","x":90,"y":0.02},{"s":"k","x":100,"y":0.0},
{"s":"l","x":1,"y":0.02},{"s":"l","x":3,"y":-0.04},{"s":"l","x":6,"y":0.10},{"s":"l","x":10,"y":0.03},{"s":"l","x":15,"y":-0.04},{"s":"l","x":25,"y":0.01},{"s":"l","x":35,"y":0.02},{"s":"l","x":50,"y":0.03},{"s":"l","x":65,"y":0.01},{"s":"l","x":80,"y":0.02},{"s":"l","x":90,"y":-0.01},{"s":"l","x":100,"y":0.02},
{"s":"m","x":1,"y":0.10},{"s":"m","x":3,"y":-0.06},{"s":"m","x":6,"y":0.12},{"s":"m","x":10,"y":-0.02},{"s":"m","x":15,"y":0.03},{"s":"m","x":25,"y":0.0},{"s":"m","x":35,"y":0.02},{"s":"m","x":50,"y":0.01},{"s":"m","x":65,"y":0.02},{"s":"m","x":80,"y":-0.01},{"s":"m","x":90,"y":0.02},{"s":"m","x":100,"y":0.0},
{"s":"n","x":1,"y":-0.08},{"s":"n","x":3,"y":0.07},{"s":"n","x":6,"y":-0.03},{"s":"n","x":10,"y":0.04},{"s":"n","x":15,"y":0.01},{"s":"n","x":25,"y":0.03},{"s":"n","x":35,"y":0.0},{"s":"n","x":50,"y":0.02},{"s":"n","x":65,"y":0.0},{"s":"n","x":80,"y":0.02},{"s":"n","x":90,"y":0.0},{"s":"n","x":100,"y":0.02},
{"s":"o","x":1,"y":0.04},{"s":"o","x":3,"y":0.11},{"s":"o","x":6,"y":0.06},{"s":"o","x":10,"y":0.0},{"s":"o","x":15,"y":0.03},{"s":"o","x":25,"y":-0.01},{"s":"o","x":35,"y":0.03},{"s":"o","x":50,"y":0.0},{"s":"o","x":65,"y":0.01},{"s":"o","x":80,"y":0.01},{"s":"o","x":90,"y":0.02},{"s":"o","x":100,"y":-0.01},
{"s":"p","x":1,"y":-0.12},{"s":"p","x":3,"y":0.0},{"s":"p","x":6,"y":-0.05},{"s":"p","x":10,"y":0.02},{"s":"p","x":15,"y":0.04},{"s":"p","x":25,"y":0.02},{"s":"p","x":35,"y":0.01},{"s":"p","x":50,"y":0.03},{"s":"p","x":65,"y":0.02},{"s":"p","x":80,"y":0.0},{"s":"p","x":90,"y":0.01},{"s":"p","x":100,"y":0.01}
],
"p3":[
{"s":"a","x":1,"y":0.02},{"s":"a","x":3,"y":0.011},{"s":"a","x":6,"y":0.004},{"s":"a","x":10,"y":0.001},{"s":"a","x":13,"y":0},{"s":"a","x":20,"y":-0.003},{"s":"a","x":30,"y":-0.005},{"s":"a","x":40,"y":-0.005},{"s":"a","x":50,"y":-0.003},{"s":"a","x":58,"y":-0.001},{"s":"a","x":70,"y":0},{"s":"a","x":80,"y":0.002},{"s":"a","x":90,"y":0.003},{"s":"a","x":100,"y":0.002},
{"s":"b","x":1,"y":0.06},{"s":"b","x":3,"y":0.033},{"s":"b","x":6,"y":0.012},{"s":"b","x":10,"y":0.003},{"s":"b","x":13,"y":0},{"s":"b","x":20,"y":-0.009},{"s":"b","x":30,"y":-0.015},{"s":"b","x":40,"y":-0.015},{"s":"b","x":50,"y":-0.009},{"s":"b","x":58,"y":-0.003},{"s":"b","x":70,"y":0},{"s":"b","x":80,"y":0.006},{"s":"b","x":90,"y":0.008},{"s":"b","x":100,"y":0.007},
{"s":"c","x":1,"y":-0.17},{"s":"c","x":3,"y":-0.094},{"s":"c","x":6,"y":-0.034},{"s":"c","x":10,"y":-0.009},{"s":"c","x":13,"y":0},{"s":"c","x":20,"y":0.026},{"s":"c","x":30,"y":0.043},{"s":"c","x":40,"y":0.043},{"s":"c","x":50,"y":0.026},{"s":"c","x":58,"y":0.009},{"s":"c","x":70,"y":0},{"s":"c","x":80,"y":-0.017},{"s":"c","x":90,"y":-0.022},{"s":"c","x":100,"y":-0.02},
{"s":"d","x":1,"y":0.155},{"s":"d","x":3,"y":0.085},{"s":"d","x":6,"y":0.031},{"s":"d","x":10,"y":0.008},{"s":"d","x":13,"y":0},{"s":"d","x":20,"y":-0.023},{"s":"d","x":30,"y":-0.039},{"s":"d","x":40,"y":-0.039},{"s":"d","x":50,"y":-0.023},{"s":"d","x":58,"y":-0.008},{"s":"d","x":70,"y":0},{"s":"d","x":80,"y":0.016},{"s":"d","x":90,"y":0.02},{"s":"d","x":100,"y":0.019},
{"s":"e","x":1,"y":-0.12},{"s":"e","x":3,"y":-0.066},{"s":"e","x":6,"y":-0.024},{"s":"e","x":10,"y":-0.006},{"s":"e","x":13,"y":0},{"s":"e","x":20,"y":0.018},{"s":"e","x":30,"y":0.03},{"s":"e","x":40,"y":0.03},{"s":"e","x":50,"y":0.018},{"s":"e","x":58,"y":0.006},{"s":"e","x":70,"y":0},{"s":"e","x":80,"y":-0.012},{"s":"e","x":90,"y":-0.016},{"s":"e","x":100,"y":-0.014},
{"s":"f","x":1,"y":0.10},{"s":"f","x":3,"y":0.055},{"s":"f","x":6,"y":0.02},{"s":"f","x":10,"y":0.005},{"s":"f","x":13,"y":0},{"s":"f","x":20,"y":-0.015},{"s":"f","x":30,"y":-0.025},{"s":"f","x":40,"y":-0.025},{"s":"f","x":50,"y":-0.015},{"s":"f","x":58,"y":-0.005},{"s":"f","x":70,"y":0},{"s":"f","x":80,"y":0.01},{"s":"f","x":90,"y":0.013},{"s":"f","x":100,"y":0.012},
{"s":"g","x":1,"y":-0.08},{"s":"g","x":3,"y":-0.044},{"s":"g","x":6,"y":-0.016},{"s":"g","x":10,"y":-0.004},{"s":"g","x":13,"y":0},{"s":"g","x":20,"y":0.012},{"s":"g","x":30,"y":0.02},{"s":"g","x":40,"y":0.02},{"s":"g","x":50,"y":0.012},{"s":"g","x":58,"y":0.004},{"s":"g","x":70,"y":0},{"s":"g","x":80,"y":-0.008},{"s":"g","x":90,"y":-0.01},{"s":"g","x":100,"y":-0.01},
{"s":"h","x":1,"y":0.07},{"s":"h","x":3,"y":0.039},{"s":"h","x":6,"y":0.014},{"s":"h","x":10,"y":0.004},{"s":"h","x":13,"y":0},{"s":"h","x":20,"y":-0.011},{"s":"h","x":30,"y":-0.018},{"s":"h","x":40,"y":-0.018},{"s":"h","x":50,"y":-0.011},{"s":"h","x":58,"y":-0.004},{"s":"h","x":70,"y":0},{"s":"h","x":80,"y":0.007},{"s":"h","x":90,"y":0.009},{"s":"h","x":100,"y":0.008},
{"s":"i","x":1,"y":-0.05},{"s":"i","x":3,"y":-0.028},{"s":"i","x":6,"y":-0.01},{"s":"i","x":10,"y":-0.003},{"s":"i","x":13,"y":0},{"s":"i","x":20,"y":0.008},{"s":"i","x":30,"y":0.013},{"s":"i","x":40,"y":0.013},{"s":"i","x":50,"y":0.008},{"s":"i","x":58,"y":0.003},{"s":"i","x":70,"y":0},{"s":"i","x":80,"y":-0.005},{"s":"i","x":90,"y":-0.007},{"s":"i","x":100,"y":-0.006},
{"s":"j","x":1,"y":0.04},{"s":"j","x":3,"y":0.022},{"s":"j","x":6,"y":0.008},{"s":"j","x":10,"y":0.002},{"s":"j","x":13,"y":0},{"s":"j","x":20,"y":-0.006},{"s":"j","x":30,"y":-0.01},{"s":"j","x":40,"y":-0.01},{"s":"j","x":50,"y":-0.006},{"s":"j","x":58,"y":-0.002},{"s":"j","x":70,"y":0},{"s":"j","x":80,"y":0.004},{"s":"j","x":90,"y":0.005},{"s":"j","x":100,"y":0.005},
{"s":"k","x":1,"y":-0.03},{"s":"k","x":3,"y":-0.017},{"s":"k","x":6,"y":-0.006},{"s":"k","x":10,"y":-0.002},{"s":"k","x":13,"y":0},{"s":"k","x":20,"y":0.005},{"s":"k","x":30,"y":0.008},{"s":"k","x":40,"y":0.008},{"s":"k","x":50,"y":0.005},{"s":"k","x":58,"y":0.002},{"s":"k","x":70,"y":0},{"s":"k","x":80,"y":-0.003},{"s":"k","x":90,"y":-0.004},{"s":"k","x":100,"y":-0.004},
{"s":"l","x":1,"y":0.01},{"s":"l","x":3,"y":0.006},{"s":"l","x":6,"y":0.002},{"s":"l","x":10,"y":0.001},{"s":"l","x":13,"y":0},{"s":"l","x":20,"y":-0.002},{"s":"l","x":30,"y":-0.003},{"s":"l","x":40,"y":-0.003},{"s":"l","x":50,"y":-0.002},{"s":"l","x":58,"y":-0.001},{"s":"l","x":70,"y":0},{"s":"l","x":80,"y":0.001},{"s":"l","x":90,"y":0.001},{"s":"l","x":100,"y":0.001},
{"s":"m","x":1,"y":-0.015},{"s":"m","x":3,"y":-0.008},{"s":"m","x":6,"y":-0.003},{"s":"m","x":10,"y":-0.001},{"s":"m","x":13,"y":0},{"s":"m","x":20,"y":0.002},{"s":"m","x":30,"y":0.004},{"s":"m","x":40,"y":0.004},{"s":"m","x":50,"y":0.002},{"s":"m","x":58,"y":0.001},{"s":"m","x":70,"y":0},{"s":"m","x":80,"y":-0.002},{"s":"m","x":90,"y":-0.002},{"s":"m","x":100,"y":-0.002},
{"s":"n","x":1,"y":0.025},{"s":"n","x":3,"y":0.014},{"s":"n","x":6,"y":0.005},{"s":"n","x":10,"y":0.001},{"s":"n","x":13,"y":0},{"s":"n","x":20,"y":-0.004},{"s":"n","x":30,"y":-0.006},{"s":"n","x":40,"y":-0.006},{"s":"n","x":50,"y":-0.004},{"s":"n","x":58,"y":-0.001},{"s":"n","x":70,"y":0},{"s":"n","x":80,"y":0.003},{"s":"n","x":90,"y":0.003},{"s":"n","x":100,"y":0.003},
{"s":"o","x":1,"y":-0.04},{"s":"o","x":3,"y":-0.022},{"s":"o","x":6,"y":-0.008},{"s":"o","x":10,"y":-0.002},{"s":"o","x":13,"y":0},{"s":"o","x":20,"y":0.006},{"s":"o","x":30,"y":0.01},{"s":"o","x":40,"y":0.01},{"s":"o","x":50,"y":0.006},{"s":"o","x":58,"y":0.002},{"s":"o","x":70,"y":0},{"s":"o","x":80,"y":-0.004},{"s":"o","x":90,"y":-0.005},{"s":"o","x":100,"y":-0.005},
{"s":"p","x":1,"y":0.05},{"s":"p","x":3,"y":0.028},{"s":"p","x":6,"y":0.01},{"s":"p","x":10,"y":0.003},{"s":"p","x":13,"y":0},{"s":"p","x":20,"y":-0.008},{"s":"p","x":30,"y":-0.013},{"s":"p","x":40,"y":-0.013},{"s":"p","x":50,"y":-0.008},{"s":"p","x":58,"y":-0.003},{"s":"p","x":70,"y":0},{"s":"p","x":80,"y":0.005},{"s":"p","x":90,"y":0.007},{"s":"p","x":100,"y":0.006}
],
"r3":[
{"s":"a","x":1,"y":0.04},{"s":"a","x":3,"y":-0.06},{"s":"a","x":6,"y":-0.11},{"s":"a","x":10,"y":0.02},{"s":"a","x":15,"y":-0.03},{"s":"a","x":25,"y":0.01},{"s":"a","x":35,"y":-0.02},{"s":"a","x":50,"y":0.02},{"s":"a","x":65,"y":-0.01},{"s":"a","x":80,"y":0.03},{"s":"a","x":90,"y":0.0},{"s":"a","x":100,"y":0.02},
{"s":"b","x":1,"y":-0.06},{"s":"b","x":3,"y":0.03},{"s":"b","x":6,"y":-0.08},{"s":"b","x":10,"y":-0.04},{"s":"b","x":15,"y":0.02},{"s":"b","x":25,"y":-0.03},{"s":"b","x":35,"y":0.01},{"s":"b","x":50,"y":-0.02},{"s":"b","x":65,"y":0.02},{"s":"b","x":80,"y":-0.01},{"s":"b","x":90,"y":0.02},{"s":"b","x":100,"y":-0.01},
{"s":"c","x":1,"y":0.08},{"s":"c","x":3,"y":0.05},{"s":"c","x":6,"y":0.02},{"s":"c","x":10,"y":-0.05},{"s":"c","x":15,"y":0.04},{"s":"c","x":25,"y":0.0},{"s":"c","x":35,"y":0.03},{"s":"c","x":50,"y":0.01},{"s":"c","x":65,"y":-0.02},{"s":"c","x":80,"y":0.01},{"s":"c","x":90,"y":-0.02},{"s":"c","x":100,"y":0.03},
{"s":"d","x":1,"y":0.19},{"s":"d","x":3,"y":0.07},{"s":"d","x":6,"y":-0.03},{"s":"d","x":10,"y":0.05},{"s":"d","x":15,"y":0.0},{"s":"d","x":25,"y":-0.04},{"s":"d","x":35,"y":0.02},{"s":"d","x":50,"y":-0.03},{"s":"d","x":65,"y":0.03},{"s":"d","x":80,"y":-0.02},{"s":"d","x":90,"y":0.01},{"s":"d","x":100,"y":0.0},
{"s":"e","x":1,"y":-0.09},{"s":"e","x":3,"y":0.10},{"s":"e","x":6,"y":0.04},{"s":"e","x":10,"y":-0.02},{"s":"e","x":15,"y":-0.05},{"s":"e","x":25,"y":0.03},{"s":"e","x":35,"y":-0.03},{"s":"e","x":50,"y":0.03},{"s":"e","x":65,"y":0.0},{"s":"e","x":80,"y":0.02},{"s":"e","x":90,"y":-0.03},{"s":"e","x":100,"y":-0.03},
{"s":"f","x":1,"y":0.06},{"s":"f","x":3,"y":-0.04},{"s":"f","x":6,"y":0.08},{"s":"f","x":10,"y":0.03},{"s":"f","x":15,"y":0.02},{"s":"f","x":25,"y":-0.02},{"s":"f","x":35,"y":0.04},{"s":"f","x":50,"y":-0.01},{"s":"f","x":65,"y":0.02},{"s":"f","x":80,"y":-0.03},{"s":"f","x":90,"y":0.02},{"s":"f","x":100,"y":0.01},
{"s":"g","x":1,"y":-0.03},{"s":"g","x":3,"y":0.08},{"s":"g","x":6,"y":-0.05},{"s":"g","x":10,"y":0.04},{"s":"g","x":15,"y":-0.03},{"s":"g","x":25,"y":0.02},{"s":"g","x":35,"y":0.0},{"s":"g","x":50,"y":0.03},{"s":"g","x":65,"y":-0.03},{"s":"g","x":80,"y":0.01},{"s":"g","x":90,"y":0.01},{"s":"g","x":100,"y":-0.02},
{"s":"h","x":1,"y":0.10},{"s":"h","x":3,"y":-0.07},{"s":"h","x":6,"y":0.05},{"s":"h","x":10,"y":-0.02},{"s":"h","x":15,"y":0.03},{"s":"h","x":25,"y":0.07},{"s":"h","x":35,"y":-0.01},{"s":"h","x":50,"y":-0.03},{"s":"h","x":65,"y":0.01},{"s":"h","x":80,"y":0.0},{"s":"h","x":90,"y":-0.01},{"s":"h","x":100,"y":0.02},
{"s":"i","x":1,"y":-0.07},{"s":"i","x":3,"y":0.02},{"s":"i","x":6,"y":0.07},{"s":"i","x":10,"y":0.0},{"s":"i","x":15,"y":-0.04},{"s":"i","x":25,"y":0.01},{"s":"i","x":35,"y":0.02},{"s":"i","x":50,"y":0.02},{"s":"i","x":65,"y":0.0},{"s":"i","x":80,"y":-0.02},{"s":"i","x":90,"y":0.03},{"s":"i","x":100,"y":0.0},
{"s":"j","x":1,"y":0.03},{"s":"j","x":3,"y":-0.09},{"s":"j","x":6,"y":0.01},{"s":"j","x":10,"y":0.05},{"s":"j","x":15,"y":0.02},{"s":"j","x":25,"y":-0.03},{"s":"j","x":35,"y":0.03},{"s":"j","x":50,"y":0.0},{"s":"j","x":65,"y":0.02},{"s":"j","x":80,"y":0.02},{"s":"j","x":90,"y":-0.01},{"s":"j","x":100,"y":0.03},
{"s":"k","x":1,"y":-0.10},{"s":"k","x":3,"y":0.06},{"s":"k","x":6,"y":-0.06},{"s":"k","x":10,"y":-0.03},{"s":"k","x":15,"y":0.04},{"s":"k","x":25,"y":0.02},{"s":"k","x":35,"y":-0.02},{"s":"k","x":50,"y":0.01},{"s":"k","x":65,"y":-0.01},{"s":"k","x":80,"y":0.01},{"s":"k","x":90,"y":0.02},{"s":"k","x":100,"y":-0.01},
{"s":"l","x":1,"y":0.05},{"s":"l","x":3,"y":0.01},{"s":"l","x":6,"y":0.09},{"s":"l","x":10,"y":0.02},{"s":"l","x":15,"y":-0.01},{"s":"l","x":25,"y":-0.01},{"s":"l","x":35,"y":0.01},{"s":"l","x":50,"y":-0.02},{"s":"l","x":65,"y":0.02},{"s":"l","x":80,"y":-0.01},{"s":"l","x":90,"y":0.0},{"s":"l","x":100,"y":0.01},
{"s":"m","x":1,"y":0.07},{"s":"m","x":3,"y":-0.08},{"s":"m","x":6,"y":0.06},{"s":"m","x":10,"y":0.03},{"s":"m","x":15,"y":-0.02},{"s":"m","x":25,"y":0.04},{"s":"m","x":35,"y":-0.01},{"s":"m","x":50,"y":0.01},{"s":"m","x":65,"y":0.01},{"s":"m","x":80,"y":-0.02},{"s":"m","x":90,"y":0.02},{"s":"m","x":100,"y":0.02},
{"s":"n","x":1,"y":-0.04},{"s":"n","x":3,"y":0.09},{"s":"n","x":6,"y":-0.02},{"s":"n","x":10,"y":-0.04},{"s":"n","x":15,"y":0.03},{"s":"n","x":25,"y":-0.02},{"s":"n","x":35,"y":0.02},{"s":"n","x":50,"y":-0.01},{"s":"n","x":65,"y":-0.02},{"s":"n","x":80,"y":0.02},{"s":"n","x":90,"y":-0.01},{"s":"n","x":100,"y":0.0},
{"s":"o","x":1,"y":0.12},{"s":"o","x":3,"y":0.03},{"s":"o","x":6,"y":-0.07},{"s":"o","x":10,"y":0.02},{"s":"o","x":15,"y":0.01},{"s":"o","x":25,"y":0.03},{"s":"o","x":35,"y":0.03},{"s":"o","x":50,"y":0.02},{"s":"o","x":65,"y":0.0},{"s":"o","x":80,"y":0.01},{"s":"o","x":90,"y":0.02},{"s":"o","x":100,"y":-0.02},
{"s":"p","x":1,"y":-0.08},{"s":"p","x":3,"y":-0.03},{"s":"p","x":6,"y":0.08},{"s":"p","x":10,"y":-0.01},{"s":"p","x":15,"y":-0.03},{"s":"p","x":25,"y":0.0},{"s":"p","x":35,"y":-0.02},{"s":"p","x":50,"y":0.0},{"s":"p","x":65,"y":0.01},{"s":"p","x":80,"y":0.0},{"s":"p","x":90,"y":-0.02},{"s":"p","x":100,"y":0.01}
],
"d1":[
{"x":-1.86,"y":0.01},{"x":-1.5,"y":0.06},{"x":-1.2,"y":0.12},{"x":-1.0,"y":0.16},{"x":-0.8,"y":0.23},{"x":-0.6,"y":0.31},{"x":-0.4,"y":0.39},{"x":-0.2,"y":0.46},{"x":0,"y":0.5},{"x":0.1,"y":0.49},{"x":0.2,"y":0.45},{"x":0.35,"y":0.37},{"x":0.5,"y":0.28},{"x":0.65,"y":0.19},{"x":0.8,"y":0.14},{"x":1.0,"y":0.11},{"x":1.3,"y":0.08},{"x":1.6,"y":0.06},{"x":2.0,"y":0.04},{"x":2.4,"y":0.02},{"x":2.77,"y":0.01}
],
"d2":[
{"x":-0.74,"y":0.05},{"x":-0.6,"y":0.12},{"x":-0.5,"y":0.22},{"x":-0.42,"y":0.35},{"x":-0.35,"y":0.53},{"x":-0.25,"y":0.96},{"x":-0.15,"y":1.47},{"x":-0.05,"y":1.7},{"x":0,"y":1.73},{"x":0.05,"y":1.71},{"x":0.15,"y":1.39},{"x":0.25,"y":0.88},{"x":0.33,"y":0.41},{"x":0.4,"y":0.3},{"x":0.5,"y":0.22},{"x":0.6,"y":0.1},{"x":0.75,"y":0.02}
],
"d3":[
{"x":-0.29,"y":0.3},{"x":-0.212,"y":0.85},{"x":-0.153,"y":1.2},{"x":-0.094,"y":1.88},{"x":-0.035,"y":2.48},{"x":0.024,"y":2.69},{"x":0.071,"y":2.6},{"x":0.129,"y":2.18},{"x":0.176,"y":1.58},{"x":0.224,"y":0.97},{"x":0.271,"y":0.48},{"x":0.33,"y":0.1}
],
"sc1":[
{"s":"a","x":-1.3,"y":0.262},{"s":"a","x":-0.9,"y":0.262},{"s":"a","x":-0.6,"y":0.262},{"s":"a","x":0.55,"y":0.262},
{"s":"b","x":-1.15,"y":0.268},{"s":"b","x":-0.7,"y":0.268},{"s":"b","x":-0.3,"y":0.268},
{"s":"c","x":-1.05,"y":0.274},{"s":"c","x":-0.5,"y":0.274},{"s":"c","x":0.1,"y":0.274},{"s":"c","x":1.05,"y":0.274},
{"s":"d","x":-0.95,"y":0.279},{"s":"d","x":-0.4,"y":0.279},{"s":"d","x":0.2,"y":0.279},
{"s":"e","x":-0.8,"y":0.284},{"s":"e","x":-0.2,"y":0.284},{"s":"e","x":0.3,"y":0.284},{"s":"e","x":1.7,"y":0.284},
{"s":"f","x":-0.6,"y":0.289},{"s":"f","x":-0.1,"y":0.289},{"s":"f","x":0.4,"y":0.289},{"s":"f","x":1.1,"y":0.289},
{"s":"g","x":-0.5,"y":0.294},{"s":"g","x":0.0,"y":0.294},{"s":"g","x":0.5,"y":0.294},{"s":"g","x":2.0,"y":0.294},
{"s":"h","x":-1.0,"y":0.299},{"s":"h","x":-0.3,"y":0.299},{"s":"h","x":0.15,"y":0.299},{"s":"h","x":1.5,"y":0.299},
{"s":"i","x":-0.2,"y":0.303},{"s":"i","x":0.25,"y":0.303},{"s":"i","x":0.9,"y":0.303},{"s":"i","x":2.3,"y":0.303},
{"s":"j","x":-0.4,"y":0.307},{"s":"j","x":0.05,"y":0.307},{"s":"j","x":0.6,"y":0.307},{"s":"j","x":1.2,"y":0.307},
{"s":"k","x":-0.1,"y":0.31},{"s":"k","x":0.3,"y":0.31},{"s":"k","x":1.0,"y":0.31},{"s":"k","x":2.7,"y":0.31},
{"s":"l","x":-0.25,"y":0.312},{"s":"l","x":0.1,"y":0.312},{"s":"l","x":0.75,"y":0.312},{"s":"l","x":1.3,"y":0.312}
],
"sc2":[
{"s":"a","x":-0.4,"y":0.92},{"s":"a","x":-0.1,"y":0.92},{"s":"a","x":0.2,"y":0.92},{"s":"a","x":0.52,"y":0.92},{"s":"a","x":0.7,"y":0.92},
{"s":"b","x":-0.3,"y":0.945},{"s":"b","x":0.0,"y":0.945},{"s":"b","x":0.25,"y":0.945},
{"s":"c","x":-0.2,"y":0.965},{"s":"c","x":0.05,"y":0.965},{"s":"c","x":0.3,"y":0.965},
{"s":"d","x":-0.25,"y":0.98},{"s":"d","x":0.1,"y":0.98},
{"s":"e","x":-0.55,"y":1.0},{"s":"e","x":-0.15,"y":1.0},{"s":"e","x":0.15,"y":1.0},{"s":"e","x":0.45,"y":1.0},
{"s":"f","x":-0.35,"y":1.02},{"s":"f","x":0.0,"y":1.02},{"s":"f","x":0.5,"y":1.02},
{"s":"g","x":-0.28,"y":1.035},{"s":"g","x":0.2,"y":1.035},{"s":"g","x":0.38,"y":1.035},
{"s":"h","x":-0.3,"y":1.05},{"s":"h","x":-0.05,"y":1.05},{"s":"h","x":0.3,"y":1.05},
{"s":"i","x":-0.2,"y":1.065},{"s":"i","x":0.1,"y":1.065},{"s":"i","x":0.25,"y":1.065},
{"s":"j","x":-0.45,"y":1.075},{"s":"j","x":0.0,"y":1.075},{"s":"j","x":0.18,"y":1.075},
{"s":"k","x":-0.25,"y":1.085},{"s":"k","x":-0.1,"y":1.085},{"s":"k","x":0.08,"y":1.085},{"s":"k","x":0.28,"y":1.085},
{"s":"l","x":-0.15,"y":1.09},{"s":"l","x":0.05,"y":1.09},{"s":"l","x":0.22,"y":1.09}
],
"sc3":[
{"s":"a","x":-0.26,"y":1.38},{"s":"a","x":-0.12,"y":1.38},{"s":"a","x":0.05,"y":1.38},{"s":"a","x":0.15,"y":1.38},
{"s":"b","x":-0.23,"y":1.42},{"s":"b","x":-0.05,"y":1.42},{"s":"b","x":0.1,"y":1.42},
{"s":"c","x":-0.2,"y":1.46},{"s":"c","x":0.0,"y":1.46},{"s":"c","x":0.3,"y":1.46},
{"s":"d","x":-0.15,"y":1.49},{"s":"d","x":0.08,"y":1.49},{"s":"d","x":0.18,"y":1.49},
{"s":"e","x":-0.25,"y":1.52},{"s":"e","x":-0.08,"y":1.52},{"s":"e","x":0.12,"y":1.52},{"s":"e","x":0.2,"y":1.52},
{"s":"f","x":-0.18,"y":1.55},{"s":"f","x":0.02,"y":1.55},{"s":"f","x":0.16,"y":1.55},
{"s":"g","x":-0.1,"y":1.58},{"s":"g","x":0.06,"y":1.58},{"s":"g","x":0.22,"y":1.58},
{"s":"h","x":-0.14,"y":1.6},{"s":"h","x":0.04,"y":1.6},{"s":"h","x":0.13,"y":1.6},
{"s":"i","x":-0.06,"y":1.62},{"s":"i","x":0.1,"y":1.62},{"s":"i","x":0.17,"y":1.62},
{"s":"j","x":-0.22,"y":1.64},{"s":"j","x":0.0,"y":1.64},{"s":"j","x":0.08,"y":1.64},
{"s":"k","x":-0.03,"y":1.65},{"s":"k","x":0.12,"y":1.65},{"s":"k","x":0.24,"y":1.65},
{"s":"l","x":-0.09,"y":1.66},{"s":"l","x":0.03,"y":1.66},{"s":"l","x":0.11,"y":1.66}
]
},
"columns":3,
"spacing":{"row":38,"column":31},
"bounds":"flush",
"concat":[
{"title":"Raw Data","data":{"name":"raw"},"mark":"line","encoding":{
 "x":{"field":"x","type":"quantitative","title":null,"scale":{"domain":[1,100]},"axis":{"values":[50,100],"format":"~r"}},
 "y":{"field":"y","type":"quantitative","title":null,"scale":{"domain":[0.15,1.95]},"axis":{"values":[0.5,1,1.5],"format":"~r"}},
 "color":{"field":"s","type":"nominal","legend":null}}},
{"title":"Mean","data":{"name":"mean"},"mark":{"type":"line","color":"#000","strokeWidth":0.8},"encoding":{
 "x":{"field":"x","type":"quantitative","title":null,"scale":{"domain":[1,100]},"axis":{"values":[50,100],"format":"~r"}},
 "y":{"field":"y","type":"quantitative","title":null,"scale":{"domain":[0.5,1.66]},"axis":{"values":[0.5,1,1.5],"format":"~r"}}}},
{"title":"Center Resid.","data":{"name":"cres"},"mark":"line","encoding":{
 "x":{"field":"x","type":"quantitative","title":null,"scale":{"domain":[1,100]},"axis":{"values":[50,100],"format":"~r"}},
 "y":{"field":"y","type":"quantitative","title":null,"scale":{"domain":[-0.4,0.3]},"axis":{"values":[-0.4,-0.2,0,0.2],"format":"~r"}},
 "color":{"field":"s","type":"nominal","legend":null}}},
{"title":"PC1 Proj.","data":{"name":"p1"},"mark":"line","encoding":{
 "x":{"field":"x","type":"quantitative","title":null,"scale":{"domain":[1,100]},"axis":{"values":[50,100],"format":"~r"}},
 "y":{"field":"y","type":"quantitative","title":null,"scale":{"domain":[-0.4,0.27]},"axis":{"values":[-0.4,-0.2,0,0.2],"format":"~r"}},
 "color":{"field":"s","type":"nominal","legend":null}}},
{"title":"PC1 Resid.","data":{"name":"r1"},"mark":"line","encoding":{
 "x":{"field":"x","type":"quantitative","title":null,"scale":{"domain":[1,100]},"axis":{"values":[50,100],"format":"~r"}},
 "y":{"field":"y","type":"quantitative","title":null,"scale":{"domain":[-0.22,0.28]},"axis":{"values":[-0.2,-0.1,0,0.1,0.2],"format":"~r"}},
 "color":{"field":"s","type":"nominal","legend":null}}},
{"title":"PC1 Scores",
 "encoding":{
  "x":{"field":"x","type":"quantitative","title":null,"scale":{"domain":[-1.86,2.77]},"axis":{"values":[-1,0,1,2],"format":"~r"}},
  "y":{"field":"y","type":"quantitative","title":null,"scale":{"domain":[0,0.53]},"axis":{"values":[0,0.2,0.4],"format":"~r"}}},
 "layer":[
 {"data":{"name":"d1"},"mark":{"type":"line","color":"#000","strokeWidth":0.8}},
 {"data":{"name":"sc1"},"mark":{"type":"point","filled":false,"size":26,"strokeWidth":0.9,"opacity":1},"encoding":{
  "color":{"field":"s","type":"nominal","legend":null}}}]},
{"title":"PC2 Proj.","data":{"name":"p2"},"mark":"line","encoding":{
 "x":{"field":"x","type":"quantitative","title":null,"scale":{"domain":[1,100]},"axis":{"values":[50,100],"format":"~r"}},
 "y":{"field":"y","type":"quantitative","title":null,"scale":{"domain":[-0.122,0.135]},"axis":{"values":[-0.1,-0.05,0,0.05,0.1],"format":"~r"}},
 "color":{"field":"s","type":"nominal","legend":null}}},
{"title":"PC2 Resid.","data":{"name":"r2"},"mark":"line","encoding":{
 "x":{"field":"x","type":"quantitative","title":null,"scale":{"domain":[1,100]},"axis":{"values":[50,100],"format":"~r"}},
 "y":{"field":"y","type":"quantitative","title":null,"scale":{"domain":[-0.18,0.3]},"axis":{"values":[-0.1,0,0.1,0.2,0.3],"format":"~r"}},
 "color":{"field":"s","type":"nominal","legend":null}}},
{"title":"PC2 Scores",
 "encoding":{
  "x":{"field":"x","type":"quantitative","title":null,"scale":{"domain":[-0.74,0.75]},"axis":{"values":[-0.5,0,0.5],"format":"~r"}},
  "y":{"field":"y","type":"quantitative","title":null,"scale":{"domain":[0,1.8]},"axis":{"values":[0,0.5,1,1.5],"format":"~r"}}},
 "layer":[
 {"data":{"name":"d2"},"mark":{"type":"line","color":"#000","strokeWidth":0.8}},
 {"data":{"name":"sc2"},"mark":{"type":"point","filled":false,"size":26,"strokeWidth":0.9,"opacity":1},"encoding":{
  "color":{"field":"s","type":"nominal","legend":null}}}]},
{"title":"PC3 Proj.","data":{"name":"p3"},"mark":"line","encoding":{
 "x":{"field":"x","type":"quantitative","title":null,"scale":{"domain":[1,100]},"axis":{"values":[50,100],"format":"~r"}},
 "y":{"field":"y","type":"quantitative","title":null,"scale":{"domain":[-0.175,0.168]},"axis":{"values":[-0.1,0,0.1],"format":"~r"}},
 "color":{"field":"s","type":"nominal","legend":null}}},
{"title":"PC3 Resid.","data":{"name":"r3"},"mark":"line","encoding":{
 "x":{"field":"x","type":"quantitative","title":null,"scale":{"domain":[1,100]},"axis":{"values":[50,100],"format":"~r"}},
 "y":{"field":"y","type":"quantitative","title":null,"scale":{"domain":[-0.135,0.19]},"axis":{"values":[-0.1,0,0.1],"format":"~r"}},
 "color":{"field":"s","type":"nominal","legend":null}}},
{"title":"PC3 Scores",
 "encoding":{
  "x":{"field":"x","type":"quantitative","title":null,"scale":{"domain":[-0.29,0.33]},"axis":{"values":[-0.2,0,0.2],"format":"~r"}},
  "y":{"field":"y","type":"quantitative","title":null,"scale":{"domain":[0,2.8]},"axis":{"values":[0,1,2],"format":"~r"}}},
 "layer":[
 {"data":{"name":"d3"},"mark":{"type":"line","color":"#000","strokeWidth":0.8}},
 {"data":{"name":"sc3"},"mark":{"type":"point","filled":false,"size":26,"strokeWidth":0.9,"opacity":1},"encoding":{
  "color":{"field":"s","type":"nominal","legend":null}}}]}
]
}
